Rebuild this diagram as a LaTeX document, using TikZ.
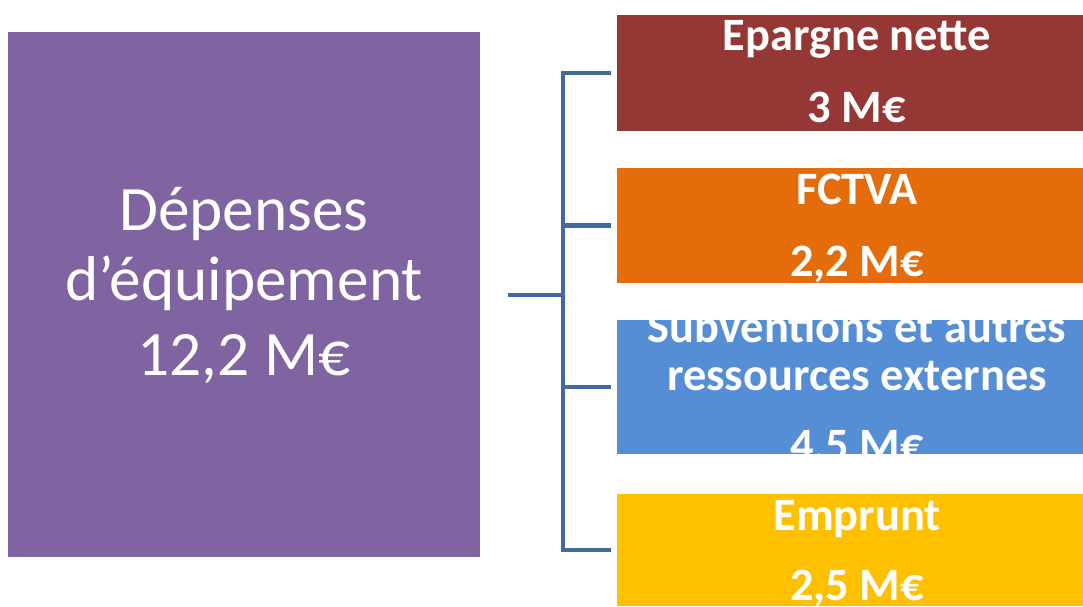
\documentclass[tikz,border=0pt]{standalone}
\usepackage{fontspec}
\setmainfont{Carlito}
\usetikzlibrary{positioning}
\usetikzlibrary{fit}
\definecolor{depcol}{HTML}{8064A2}
\definecolor{epcol}{HTML}{953735}
\definecolor{fccol}{HTML}{E46C0A}
\definecolor{subcol}{HTML}{558ED5}
\definecolor{empcol}{HTML}{FFC000}
\definecolor{linkcol}{HTML}{426A9B}
\tikzstyle{block}=[rectangle,inner sep=0pt,draw=none]
\tikzstyle{bigtext}=[text=white,anchor=base,inner sep=0pt,font=\fontsize{45}{54}\selectfont]
\tikzstyle{boldtext}=[text=white,anchor=base,inner sep=0pt,font=\fontsize{33}{40}\selectfont\bfseries]
\tikzstyle{bracket}=[draw=linkcol,line width=3.5pt,line join=miter]

\begin{document}
\begin{tikzpicture}[x=0.025cm,y=-0.025cm]
    \useasboundingbox (0,0) rectangle (1083,606);

    % left block
    \node[block,fill=depcol,fit={(8,32) (480,557)}] (depenses) {};
    \foreach \ypos/\name/\label in {230/dep1/Dépenses, 300/dep2/d’équipement, 375/dep3/{12,2 M€}}
        \node[bigtext] (\name) at (244,\ypos) {\label};

    % right blocks
    \foreach \top/\bot/\name/\col in {15/131/epargne/epcol, 168/283/fctva/fccol, 320/454/subv/subcol, 494/606/emprunt/empcol}
        \node[block,fill=\col,fit={(617,\top) (1083,\bot)}] (\name) {};

    \foreach \ypos/\name/\label in {50/ep1/Epargne nette, 122/ep2/3 M€, 204/fc1/FCTVA, 276/fc2/{2,2 M€},
        342/sb1/Subventions et autres, 390/sb2/ressources externes, 460/sb3/{4,5 M€},
        530/em1/Emprunt, 600/em2/{2,5 M€}}
        \node[boldtext] (\name) at (857,\ypos) {\label};

    % bracket
    \coordinate (hub) at (508,295);
    \coordinate (spine) at (563,295);
    \draw[bracket] (hub) -- (spine);
    \foreach \dest in {epargne,fctva,subv,emprunt}
        \draw[bracket] (spine) |- ([xshift=-0.15cm]\dest.west);

\end{tikzpicture}
\end{document}
